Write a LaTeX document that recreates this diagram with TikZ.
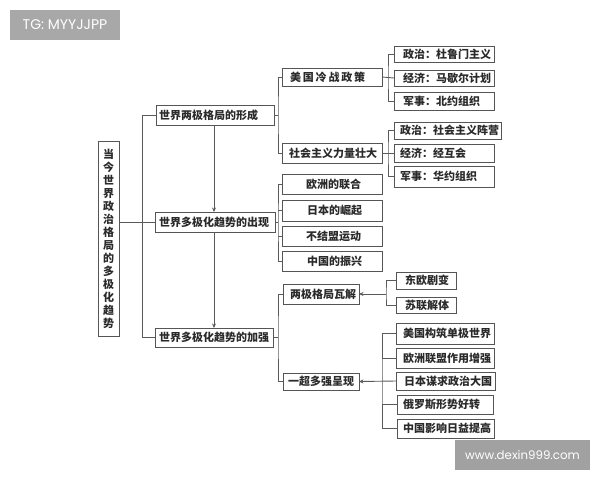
\documentclass[tikz,border=0pt]{standalone}
\usepackage{fontspec}
\setmainfont{Noto Sans CJK SC}
\newfontfamily\markfont{Poppins}
\usetikzlibrary{arrows.meta}
\definecolor{linec}{HTML}{5A5A5A}
\definecolor{boxc}{HTML}{555555}
\definecolor{textc}{HTML}{2A2A2A}
\tikzset{
  x=1pt,y=-1pt,
  plain/.style={draw=boxc,line width=0.95pt,inner sep=0pt,outer sep=0pt,text=textc,font=\bfseries\fontsize{11}{13}\selectfont},
  conn/.style={draw=linec,line width=0.9pt},
  arr/.style={conn,-{Stealth[length=4.5pt,width=4pt]}},
  wm/.style={fill=#1,inner sep=0pt,outer sep=0pt,text=white},
}
% name, x1, y1, x2, y2, text offset from left, text
\newcommand{\bx}[7]{%
  \pgfmathsetmacro{\bw}{#4-#2}\pgfmathsetmacro{\bh}{#5-#3}%
  \node[plain,minimum width=\bw pt,minimum height=\bh pt] (#1) at ({(#2+#4)/2},{(#3+#5)/2})
    {\makebox[\bw pt][l]{\hspace{#6pt}#7}};}
\begin{document}
\begin{tikzpicture}
\useasboundingbox (0,0) rectangle (600,480);
% watermarks
\node[wm=black!34,minimum width=110pt,minimum height=30pt,font=\markfont\fontsize{14}{16}\selectfont] (tg) at (65,25) {TG: MYYJJPP};
\node[wm=black!37,minimum width=135pt,minimum height=30pt,font=\markfont\fontsize{11.8}{14}\selectfont] (site) at (522.5,455) {www.dexin999.com};
% root
\node[plain,minimum width=21pt,minimum height=195pt,align=center] (root) at (108.5,238.5)
  {当\\今\\世\\界\\政\\治\\格\\局\\的\\多\\极\\化\\趋\\势};
% level 1
\bx{b1}{156}{105}{274}{125}{3}{世界两极格局的形成}
\bx{b2}{155}{212}{275}{232}{4}{世界多极化趋势的出现}
\bx{b3}{155}{328}{273}{347}{4}{世界多极化趋势的加强}
% level 2
\bx{m1}{282}{68}{382}{86}{8}{美\,国\,冷\,战\,政\,策}
\bx{m2}{282}{143}{382}{163}{7}{社会主义力量壮大}
\bx{m3}{282}{174}{382}{194}{24}{欧洲的联合}
\bx{m4}{282}{200}{382}{221}{25}{日本的崛起}
\bx{m5}{282}{226}{382}{246}{24}{不结盟运动}
\bx{m6}{282}{251}{382}{271}{25}{中国的振兴}
\bx{m7}{283}{284}{359}{304}{7}{两极格局瓦解}
\bx{m8}{283}{373}{359}{390}{5}{一超多强呈现}
% level 3
\bx{c1}{394}{46}{494}{62}{9}{政治：杜鲁门主义}
\bx{c2}{394}{70}{494}{86}{9}{经济：马歇尔计划}
\bx{c3}{394}{92}{494}{110}{9}{军事：北约组织}
\bx{c4}{394}{122}{501}{139}{6}{政治：社会主义阵营}
\bx{c5}{394}{144}{494}{162}{6}{经济：经互会}
\bx{c6}{394}{166}{494}{187}{6}{军事：华约组织}
\bx{d1}{396}{272}{456}{289}{9}{东欧剧变}
\bx{d2}{396}{297}{456}{313}{9}{苏联解体}
\bx{e1}{396}{323}{494}{344}{7}{美国构筑单极世界}
\bx{e2}{396}{348}{494}{368}{7}{欧洲联盟作用增强}
\bx{e3}{396}{372}{495}{390}{8}{日本谋求政治大国}
\bx{e4}{397}{395}{493}{414}{6}{俄罗斯形势好转}
\bx{e5}{397}{419}{494}{438}{6}{中国影响日益提高}
% spine positions
\coordinate (s1) at (142.5,222);
\coordinate (s2) at (278,115);
\coordinate (s3) at (278,222);
\coordinate (s4) at (278,337);
\coordinate (s5) at (388,77);
\coordinate (s6) at (388,153);
\coordinate (s7) at (386,294);
\coordinate (s8) at (382,382);
\coordinate (a1) at (214,170);
% connectors
\draw[conn] (root.east |- b2.west) -- (b2.west);
\draw[conn] (b1.west) -| (s1) |- (b3.west);
\draw[arr] (a1 |- b1.south) -- (a1 |- b2.north);
\draw[arr] (a1 |- b2.south) -- (a1 |- b3.north);
\draw[conn] (b1.east) -- (b1.east -| s2);
\draw[conn] (m1.west) -| (s2) |- (m2.west);
\draw[conn] (b2.east) -- (b2.east -| s3);
\draw[conn] (m3.west) -| (s3) |- (m6.west);
\draw[conn] (m4.west) -- (m4.west -| s3);
\draw[conn] (m5.west) -- (m5.west -| s3);
\draw[conn] (b3.east) -- (b3.east -| s4);
\draw[conn] (m7.west) -| (s4) |- (m8.west);
\draw[conn] (m1.east) -- (c2.west);
\draw[conn] (c1.west) -| (s5) |- (c3.west);
\draw[conn] (m2.east) -- (c5.west);
\draw[conn] (c4.west) -| (s6) |- (c6.west);
\draw[conn] (d1.west) -| (s7) |- (d2.west);
\draw[arr] (s7 |- m7.east) -- (m7.east);
\draw[conn] (e1.west) -| (s8) |- (e5.west);
\draw[conn] (e2.west) -- (e2.west -| s8);
\draw[conn] (e4.west) -- (e4.west -| s8);
\draw[arr] (e3.west) -- (m8.east);
\end{tikzpicture}
\end{document}
